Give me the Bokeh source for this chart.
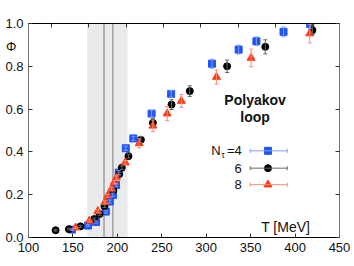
from bokeh.plotting import figure
from bokeh.models import (LinearAxis, FixedTicker, Whisker, TeeHead, Label,
                          BoxAnnotation, Span, ColumnDataSource, Range1d,
                          PrintfTickFormatter)
from bokeh.embed import file_html
from bokeh.resources import INLINE

# ---------------- data ----------------
T4 = [149, 167, 176, 187, 191.5, 195, 198.5, 201.5, 209.5, 218, 238.5, 260.5, 306.5, 336.5, 356.5, 387, 417]
phi4 = [0.037, 0.056, 0.073, 0.121, 0.168, 0.199, 0.245, 0.303, 0.417, 0.463, 0.579, 0.671, 0.812, 0.878, 0.917, 0.961, 0.998]
err4 = [0.004, 0.004, 0.005, 0.006, 0.007, 0.008, 0.008, 0.009, 0.010, 0.010, 0.015, 0.015, 0.021, 0.021, 0.020, 0.023, 0.020]

T6 = [130.5, 145.5, 158.5, 174, 180, 185.5, 195.5, 202, 205, 212.5, 226.5, 240, 261, 281.5, 323.5, 366.5, 419.5]
phi6 = [0.034, 0.039, 0.052, 0.086, 0.110, 0.146, 0.221, 0.296, 0.326, 0.380, 0.457, 0.536, 0.621, 0.684, 0.800, 0.891, 0.969]
err6 = [0.004, 0.004, 0.005, 0.005, 0.006, 0.006, 0.007, 0.008, 0.008, 0.009, 0.015, 0.020, 0.023, 0.025, 0.029, 0.033, 0.022]

T8 = [153, 168.5, 178, 186, 189, 193.5, 196.5, 199, 208.8, 224.5, 240, 256, 272, 311.5, 350.5, 416.5]
phi8 = [0.046, 0.078, 0.123, 0.165, 0.195, 0.228, 0.258, 0.280, 0.350, 0.440, 0.522, 0.579, 0.638, 0.750, 0.839, 0.953]
err8 = [0.004, 0.005, 0.006, 0.006, 0.007, 0.007, 0.008, 0.008, 0.010, 0.021, 0.027, 0.033, 0.030, 0.033, 0.041, 0.044]

series_labels = ["=4", "6", "8"]
x_ticks = [100, 150, 200, 250, 300, 350, 400, 450]
y_ticks = [0.0, 0.2, 0.4, 0.6, 0.8, 1.0]
y_title = "Φ  "
y_title_pos = 0.892
Tc = 210
top_ticks = [Tc * f for f in [0.6, 0.8, 1.0, 1.2, 1.4, 1.6, 1.8, 2.0]]
band = (166, 211.5)
vlines = [185, 195]

FONT = "Liberation Sans"

p = figure(width=354, height=266, output_backend="svg", toolbar_location=None,
           x_range=Range1d(100, 450), y_range=Range1d(0, 1.0),
           min_border_left=28, min_border_right=15, min_border_top=23,
           min_border_bottom=29)
p.outline_line_color = "#000000"
p.xgrid.visible = False
p.ygrid.visible = False


def style_axis(ax, labels=True):
    ax.major_tick_in = 4
    ax.major_tick_out = 0
    ax.minor_tick_in = 0
    ax.minor_tick_out = 0
    ax.major_tick_line_color = "#333333"
    ax.major_label_text_font = FONT
    ax.major_label_text_font_size = "13px"
    ax.major_label_text_color = "#111111"
    ax.major_label_standoff = 2
    if not labels:
        ax.major_label_overrides = {t: "" for t in ax.ticker.ticks}
        ax.major_label_standoff = 0


xa = p.xaxis[0]
xa.ticker = FixedTicker(ticks=x_ticks)
style_axis(xa)
xa.major_label_standoff = 5
xa.axis_line_color = "#000000"

# left axis: numeric labels plus the Φ title as an extra labelled position;
# visible tick marks are drawn as the minor ticks at the numeric positions
ya = p.yaxis[0]
ya.ticker = FixedTicker(ticks=y_ticks + [y_title_pos], minor_ticks=y_ticks)
ya.formatter = PrintfTickFormatter(format="%.1f")
style_axis(ya)
ya.major_label_overrides = {y_title_pos: y_title}
ya.major_tick_in = 0
ya.minor_tick_in = 4
ya.minor_tick_out = 0
ya.minor_tick_line_color = "#333333"
ya.major_label_standoff = 5
ya.axis_line_color = "#777777"

top = LinearAxis(ticker=FixedTicker(ticks=top_ticks))
style_axis(top, labels=False)
top.axis_line_color = "#000000"
p.add_layout(top, "above")

right = LinearAxis(ticker=FixedTicker(ticks=y_ticks))
style_axis(right, labels=False)
right.axis_line_color = "#777777"
p.add_layout(right, "right")

# band and lines
p.add_layout(BoxAnnotation(left=band[0], right=band[1], fill_color="#e9eaec",
                           fill_alpha=1.0, line_color=None, level="underlay"))
for v in vlines:
    p.add_layout(Span(location=v, dimension="height", line_color="#8a8a8a",
                      line_width=1.2, level="underlay"))

colors = ["#1f55f5", "#000000", "#ff3a14"]
err_colors = ["#7f9cf7", "#666666", "#ff8a78"]
markers = ["square", "circle", "triangle"]
sizes = [7, 7, 8]

for T, ph, er, c, ec, m, s in zip([T4, T6, T8], [phi4, phi6, phi8], [err4, err6, err8],
                                   colors, err_colors, markers, sizes):
    src = ColumnDataSource(dict(T=T, phi=ph,
                                lo=[a - b for a, b in zip(ph, er)],
                                up=[a + b for a, b in zip(ph, er)]))
    p.add_layout(Whisker(source=src, base="T", lower="lo", upper="up",
                         dimension="height", line_color=ec, line_width=1,
                         upper_head=TeeHead(size=4, line_color=ec, line_width=1),
                         lower_head=TeeHead(size=4, line_color=ec, line_width=1),
                         level="glyph"))
    p.scatter("T", "phi", source=src, marker=m, size=s, fill_color=c,
              line_color=c)

# legend (drawn manually)
leg_y = [0.405, 0.324, 0.247]
leg_text_x = 340
leg_mark_x = 369.5
leg_bar = (349.6, 391.2)
for i in range(3):
    lsrc = ColumnDataSource(dict(y=[leg_y[i]], lo=[leg_bar[0]], up=[leg_bar[1]],
                                 x=[leg_mark_x]))
    p.add_layout(Whisker(source=lsrc, base="y", lower="lo", upper="up",
                         dimension="width", line_color=err_colors[i], line_width=1,
                         upper_head=TeeHead(size=4, line_color=err_colors[i], line_width=1),
                         lower_head=TeeHead(size=4, line_color=err_colors[i], line_width=1),
                         level="glyph"))
    p.scatter("x", "y", source=lsrc, marker=markers[i], size=sizes[i],
              fill_color=colors[i], line_color=colors[i])
    p.add_layout(Label(x=leg_text_x, y=leg_y[i], text=series_labels[i],
                       text_align="right", text_baseline="middle",
                       text_font=FONT, text_font_size="13px", text_color="#111111"))

# N_tau prefix
p.add_layout(Label(x=leg_text_x, y=leg_y[0], text="τ", x_offset=-17, y_offset=-4,
                   text_align="right", text_baseline="middle",
                   text_font=FONT, text_font_size="9px", text_color="#111111"))
p.add_layout(Label(x=leg_text_x, y=leg_y[0], text="N", x_offset=-21,
                   text_align="right", text_baseline="middle",
                   text_font=FONT, text_font_size="13px", text_color="#111111"))

# annotations
p.add_layout(Label(x=355, y=0.642, text="Polyakov", text_align="center",
                   text_baseline="middle", text_font=FONT, text_font_size="14px",
                   text_font_style="bold", text_color="#111111"))
p.add_layout(Label(x=355, y=0.562, text="loop", text_align="center",
                   text_baseline="middle", text_font=FONT, text_font_size="14px",
                   text_font_style="bold", text_color="#111111"))
p.add_layout(Label(x=417, y=0.05, text="T [MeV]", text_align="right",
                   text_baseline="middle", text_font=FONT, text_font_size="14px",
                   text_color="#111111"))

open("out.html", "w").write(file_html(p, INLINE))
